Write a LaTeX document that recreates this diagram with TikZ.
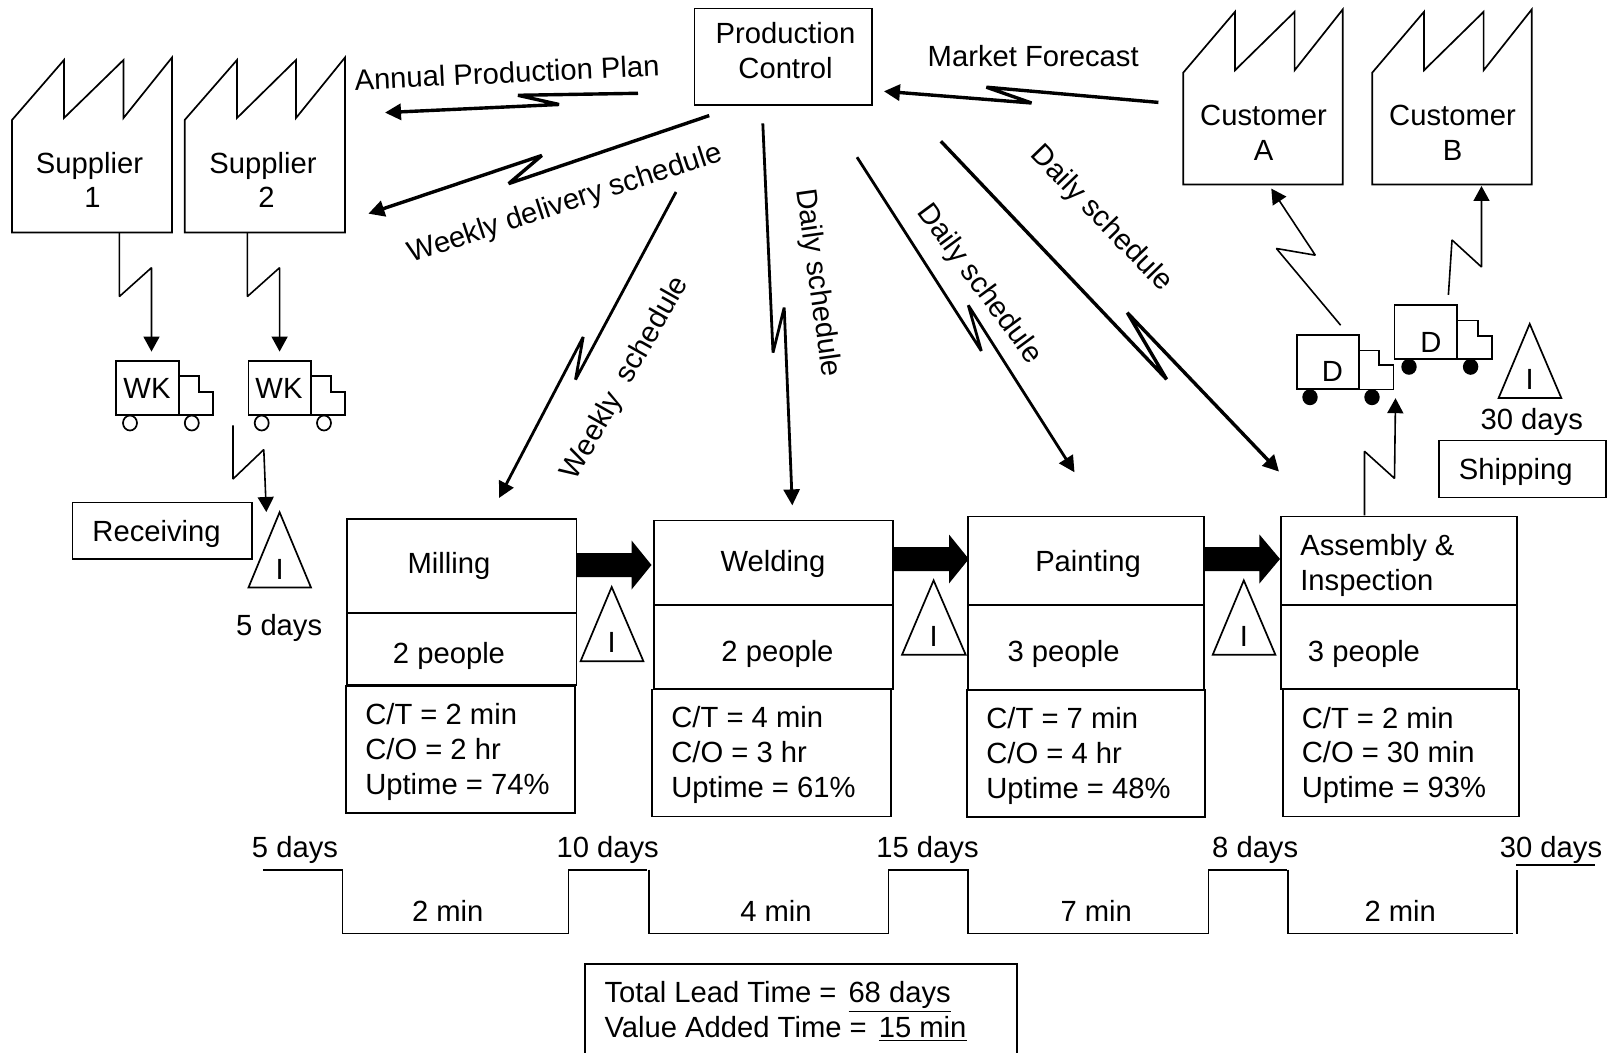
\documentclass[tikz,border=0pt]{standalone}
\usepackage{fontspec}
\setmainfont{Liberation Sans}
\usetikzlibrary{arrows.meta}
\newcommand{\vsmfont}{\fontsize{14.6pt}{17.4pt}\selectfont}
\tikzset{
  lbl/.style={inner sep=0pt,outer sep=0pt,font=\vsmfont,align=center},
  lblleft/.style={lbl,align=left,anchor=west},
  boxst/.style={draw=black,line width=.9pt,inner sep=0pt,outer sep=0pt,anchor=north west},
  shapeline/.style={draw=black,line width=.85pt,line join=miter},
  thinflow/.style={draw=black,line width=.8pt,line join=bevel,-{Triangle[length=7.5pt,width=8pt]}},
  thickflow/.style={draw=black,line width=1.7pt,line join=bevel,-{Triangle[length=8pt,width=8pt]}},
  midflow/.style={draw=black,line width=1.4pt,line join=bevel,-{Triangle[length=8pt,width=8pt]}},
  pushfill/.style={fill=black,draw=none},
  timeline/.style={draw=black,line width=.85pt},
}
% \bxnode{name}{x0}{y0}{x1}{y1}
\newcommand{\bxnode}[5]{\node[boxst,minimum width={(#4-#2)*0.5pt},minimum height={(#5-#3)*0.5pt}] (#1) at (#2,#3) {};}
% \invtri{name}{apex x}{apex y}{left}{right}{base y}{I y}
\newcommand{\invtri}[7]{%
  \draw[shapeline] (#2,#3) -- (#4,#6) -- (#5,#6) -- cycle;
  \node[lbl] (#1) at (#2,#7) {I};}
% \factory{x0}{x1}{x2}{x3}{top1}{top2}{notch}{shoulder}{bottom}
\newcommand{\factory}[9]{%
  \draw[shapeline] (#1,#9) -- (#1,#8) -- (#2,#6) -- (#2,#7) -- (#3,#6) -- (#3,#7) -- (#4,#5) -- (#4,#9) -- cycle;}
% \truck{name}{left}{top}{split}{bottom}{cabtop}{cabstep}{cabmid}{right}
\newcommand{\truck}[9]{%
  \bxnode{#1}{#2}{#3}{#4}{#5}
  \draw[shapeline] (#4,#6) -- (#8,#6) -- (#8,#7) -- (#9,#7) -- (#9,#5) -- (#4,#5);}
% \pusharrow{from x}{tip x}{head base x}{tip y}
\newcommand{\pusharrow}[4]{%
  \fill[pushfill] (#1,#4-12) -- (#3,#4-12) -- (#3,#4-24.5) -- (#2,#4) -- (#3,#4+24.5) -- (#3,#4+12) -- (#1,#4+12) -- cycle;}
\begin{document}
\begin{tikzpicture}[x=0.5pt,y=-0.5pt]
\useasboundingbox (0,0) rectangle (1612,1053);

% --- factories
\factory{12}{64}{123.5}{172}{57.5}{60}{118}{120}{232.6}
\factory{184.7}{237}{296}{345}{57.5}{60}{118}{120}{232.6}
\factory{1183.2}{1235}{1294.6}{1342.7}{9.5}{11.8}{70.3}{72.7}{184.6}
\factory{1372.2}{1424}{1483.6}{1531.7}{9.5}{11.8}{70.3}{72.7}{184.6}
\node[lbl] (sup1) at (89.5,180) {Supplier\\\hspace*{3pt}1};
\node[lbl] (sup2) at (263,180) {Supplier\\\hspace*{3.5pt}2};
\node[lbl] (custA) at (1263.5,132.5) {Customer\\A};
\node[lbl] (custB) at (1452.5,132.5) {Customer\\B};

% --- production control
\bxnode{pc}{694.4}{8.5}{872}{105}
\node[lbl] (pctext) at (785.5,50.5) {Production\\Control};

% --- trucks
\truck{wk1}{115.8}{360.7}{178.6}{414.8}{376}{392}{199}{212.8}
\truck{wk2}{248.5}{360.7}{310.7}{414.8}{376}{392}{331}{345}
\node[lbl] (wk1t) at (147,388.8) {WK};
\node[lbl] (wk2t) at (279,388.8) {WK};
\draw[shapeline] (130,423) ellipse [x radius=7,y radius=7.5];
\draw[shapeline] (191.8,423) ellipse [x radius=7,y radius=7.5];
\draw[shapeline] (261.7,423) ellipse [x radius=7,y radius=7.5];
\draw[shapeline] (324,423) ellipse [x radius=7,y radius=7.5];
\truck{d1}{1296.6}{334.7}{1358.8}{389.4}{350.6}{365}{1379}{1393.5}
\truck{d2}{1394.5}{305}{1457.2}{359}{320.5}{335.7}{1477.9}{1491.9}
\node[lbl] (d1t) at (1332.5,371) {D};
\node[lbl] (d2t) at (1430.8,342) {D};
\fill (1310,397.2) ellipse [x radius=7.7,y radius=8];
\fill (1372,397.2) ellipse [x radius=7.7,y radius=8];
\fill (1409,366.8) ellipse [x radius=7.7,y radius=8];
\fill (1470.6,366.8) ellipse [x radius=7.7,y radius=8];

% --- free ends of connectors
\coordinate (aS) at (638,93.3);   \coordinate (aE) at (385,112.6);
\coordinate (mS) at (1158.4,102.4);\coordinate (mE) at (883.9,91.3);
\coordinate (wdS) at (709.2,115.6);\coordinate (wdE) at (368.4,213.7);
\coordinate (wsS) at (676,192);   \coordinate (wsE) at (499,498);
\coordinate (d2S) at (762.8,123.4);\coordinate (d2E) at (792.3,505.4);
\coordinate (d3S) at (857,157.2); \coordinate (d3E) at (1074.5,472.3);
\coordinate (d4S) at (940.9,141.3);\coordinate (d4E) at (1279,471.6);
\coordinate (s1S) at (119.4,233); \coordinate (s1E) at (151.5,351.6);
\coordinate (s2S) at (247.4,233); \coordinate (s2E) at (279.6,351.6);
\coordinate (rS) at (233,425.3);  \coordinate (rE) at (266.3,512);
\coordinate (cAS) at (1340.6,325.2);\coordinate (cAE) at (1271.3,188.6);
\coordinate (cBS) at (1448.4,294.8);\coordinate (cBE) at (1481.5,186);
\coordinate (asS) at (1364.5,515.5);\coordinate (asE) at (1395.5,398.2);

% --- information flows
\draw[thickflow] (aS) -- (518,95.3) -- (559,104.5) -- (aE);
\draw[thickflow] (mS) -- (986.4,87.2) -- (1031.5,103) -- (mE);
\draw[thickflow] (wdS) -- (508.7,183.6) -- (541.8,155.5) -- (wdE);
\draw[midflow] (wsS) -- (575.5,379.6) -- (583.2,337) -- (wsE);
\draw[midflow] (d2S) -- (773,352.6) -- (784.2,307.6) -- (d2E);
\draw[midflow] (d3S) -- (981.3,350.9) -- (968.3,305.3) -- (d3E);
\draw[thickflow] (d4S) -- (1166.6,379.3) -- (1127.3,312.7) -- (d4E);
\draw[thinflow] (s1S) -- (119.4,296.5) -- (151.5,267.7) -- (s1E);
\draw[thinflow] (s2S) -- (247.4,296.5) -- (279.6,267.7) -- (s2E);
\draw[thinflow] (rS) -- (233,479) -- (263.8,449.6) -- (rE);
\draw[thinflow] (cAS) -- (1276.4,248.5) -- (1315.3,255.2) -- (cAE);
\draw[thinflow] (cBS) -- (1452,240) -- (1481.5,267) -- (cBE);
\draw[thinflow] (asS) -- (1364.5,451.3) -- (1394.5,478.4) -- (asE);

% --- flow labels
\node[lbl,rotate=2.7] (lA) at (507,72.5) {Annual Production Plan};
\node[lbl] (lM) at (1033.2,55.8) {Market Forecast};
\node[lbl,rotate=18.2] (lWD) at (565.3,204.3) {Weekly delivery schedule};
\node[lbl,rotate=60.5] (lWS) at (625.5,378.5) {Weekly\ \ schedule};
\node[lbl,rotate=-82] (lD2) at (817,283) {Daily schedule};
\node[lbl,rotate=-53.5] (lD3) at (979,284.5) {Daily schedule};
\node[lbl,rotate=-46] (lD4) at (1101,219) {Daily schedule};

% --- receiving / shipping
\bxnode{recv}{72.4}{502.5}{252}{559}
\node[lbl] (recvt) at (156.6,534) {Receiving};
\invtri{iR}{279.6}{512.3}{248.5}{311}{587.5}{569.8}
\node[lbl] (dR) at (279.2,628) {5 days};
\bxnode{ship}{1439}{440.5}{1605.8}{497.6}
\node[lbl] (shipt) at (1515.7,472.2) {Shipping};
\invtri{iS}{1529.7}{323.9}{1498.6}{1561.3}{398}{379}
\node[lbl] (dS) at (1531.8,421.5) {30 days};

% --- milling
\bxnode{mt}{347}{518.7}{576.5}{613.2}
\bxnode{mp}{347}{613.2}{576.5}{685.2}
\bxnode{md}{346}{685.9}{575}{812.9}
\node[lbl] (mtt) at (449,565.8) {Milling};
\node[lbl] (mpt) at (449,656.4) {2 people};
\node[lblleft] (mdt) at (365.3,752) {C/T = 2 min\\C/O = 2 hr\\Uptime = 74\%};
% --- welding
\bxnode{wt}{653.6}{520.5}{893.2}{605}
\bxnode{wp}{653.6}{605}{893.2}{688.7}
\bxnode{wd}{652}{689.4}{891}{816.4}
\node[lbl] (wtt) at (773,564) {Welding};
\node[lbl] (wpt) at (777.5,654) {2 people};
\node[lblleft] (wdt) at (671.4,755) {C/T = 4 min\\C/O = 3 hr\\Uptime = 61\%};
% --- painting
\bxnode{pt}{967.8}{516.6}{1204}{605}
\bxnode{pp}{967.8}{605}{1204}{689.4}
\bxnode{pd}{966.8}{690}{1205}{817}
\node[lbl] (ptt) at (1088,564) {Painting};
\node[lbl] (ppt) at (1063.6,654.4) {3 people};
\node[lblleft] (pdt) at (986.4,756) {C/T = 7 min\\C/O = 4 hr\\Uptime = 48\%};
% --- assembly
\bxnode{at}{1280.6}{516.6}{1517}{605}
\bxnode{ap}{1280.6}{605}{1517}{688.7}
\bxnode{ad}{1282.7}{689.4}{1518.8}{816.4}
\node[lblleft] (att) at (1300.3,565.7) {Assembly \&\\Inspection};
\node[lbl] (apt) at (1364,654) {3 people};
\node[lblleft] (adt) at (1301.8,755.3) {C/T = 2 min\\C/O = 30 min\\Uptime = 93\%};

% --- push arrows
\pusharrow{576.5}{651.5}{631.6}{565}
\pusharrow{893.2}{968.8}{949}{559}
\pusharrow{1204}{1280}{1259.4}{559}

% --- inventory triangles
\invtri{i1}{611.7}{587}{580.6}{643.4}{661.2}{642.9}
\invtri{i2}{933.6}{580.4}{902}{965.7}{654.8}{636.5}
\invtri{i3}{1243.8}{580.4}{1212.7}{1275.4}{654.8}{636.5}

% --- timeline
\draw[timeline] (262.8,869.7) -- (342.4,869.7) -- (342.4,933.5) -- (568.4,933.5) -- (568.4,869.7) -- (647.4,869.7);
\draw[timeline] (649,869.7) -- (649,933.5) -- (888.6,933.5) -- (888.6,869.7) -- (968.3,869.7) -- (968.3,933.5) -- (1208.6,933.5) -- (1208.6,869.7) -- (1286.8,869.7);
\draw[timeline] (1288.3,869.7) -- (1288.3,933.5) -- (1512.6,933.5);
\draw[timeline] (1517.3,870) -- (1517.3,933.5);
\draw[draw=black,line width=1pt] (1516,865) -- (1595,865);
\node[lbl] (t1) at (295,850.4) {5 days};
\node[lbl] (t2) at (607.7,850.4) {10 days};
\node[lbl] (t3) at (927.5,850.4) {15 days};
\node[lbl] (t4) at (1255.2,850.4) {8 days};
\node[lbl] (t5) at (1551,850.4) {30 days};
\node[lbl] (c1) at (447.7,910.6) {2 min};
\node[lbl] (c2) at (776,910.6) {4 min};
\node[lbl] (c3) at (1096.2,910.6) {7 min};
\node[lbl] (c4) at (1400.2,910.6) {2 min};

% --- summary
\draw[shapeline] (584.7,1053) -- (584.7,963.8) -- (1017,963.8) -- (1017,1053);
\node[lblleft] (sum) at (604.6,1011.7) {Total Lead Time =\hspace{2pt} \underline{68 days}\\Value Added Time =\hspace{2pt} \underline{15 min}};
\end{tikzpicture}
\end{document}
